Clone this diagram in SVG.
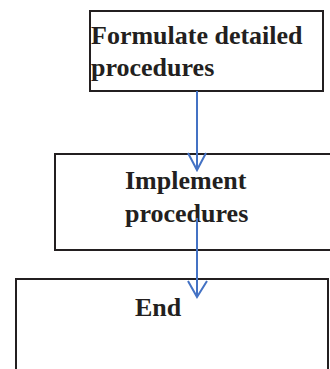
<svg xmlns="http://www.w3.org/2000/svg" width="330" height="369" viewBox="0 0 330 369">
<style>
.box{fill:#fff;stroke:#231f20;stroke-width:2}
.lbl{font-family:"Liberation Serif","Times New Roman",serif;font-weight:bold;font-size:26px;fill:#231f20}
.conn{stroke:#4472c4;stroke-width:2;fill:none}
</style>
<g id="node-formulate">
<rect class="box" x="90" y="11" width="233" height="80"/>
<text class="lbl" x="91" y="44">Formulate detailed</text>
<text class="lbl" x="91" y="76">procedures</text>
</g>
<g id="node-implement">
<rect class="box" x="55" y="154" width="280" height="96"/>
<text class="lbl" x="125" y="189">Implement</text>
<text class="lbl" x="125" y="222">procedures</text>
</g>
<g id="node-end">
<rect class="box" x="16" y="279" width="312" height="100"/>
<text class="lbl" x="135" y="316">End</text>
</g>
<g id="connectors">
<path class="conn" d="M197 91 V170 M188 153 L197 170 L206 153"/>
<path class="conn" d="M197 218 V297 M188 281 L197 297 L207 281"/>
</g>
</svg>
